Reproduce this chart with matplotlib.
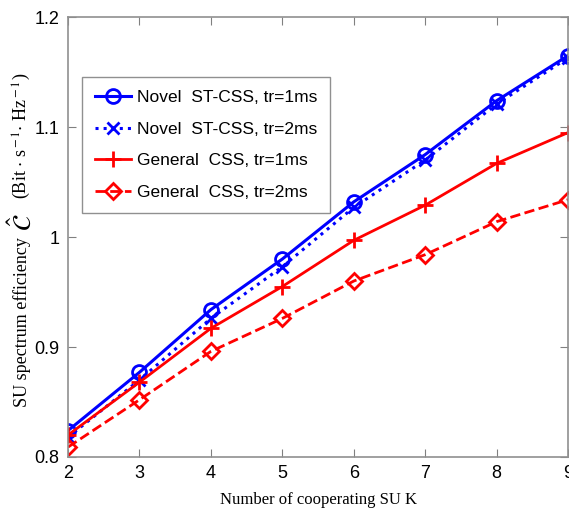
import numpy as np
import matplotlib
matplotlib.use("Agg")
import matplotlib.pyplot as plt

plt.rcParams["mathtext.fontset"] = "stix"

# number of cooperating SUs
K = [2, 3, 4, 5, 6, 7, 8, 9]

# spectrum efficiency
novel_1ms = [0.824, 0.877, 0.934, 0.980, 1.032, 1.075, 1.124, 1.165]
novel_2ms = [0.818, 0.870, 0.926, 0.973, 1.027, 1.070, 1.121, 1.163]
general_1ms = [0.820, 0.868, 0.917, 0.955, 0.997, 1.029, 1.067, 1.095]
general_2ms = [0.809, 0.852, 0.896, 0.926, 0.960, 0.984, 1.014, 1.034]

labels = ["Novel  ST-CSS, tr=1ms", "Novel  ST-CSS, tr=2ms",
          "General  CSS, tr=1ms", "General  CSS, tr=2ms"]

W, H = 569, 508
fig = plt.figure(figsize=(W / 100, H / 100), dpi=100)
ax = fig.add_axes([0.1195, 0.1004, 0.879, 0.866])

ax.plot(K, novel_1ms, color="#0000ff", ls="-", lw=2.2, marker="o", ms=10,
        mfc="none", mew=2, label=labels[0])
ax.plot(K, novel_2ms, color="#0000ff", ls=":", lw=2.2, marker="x", ms=9,
        mew=2, label=labels[1])
ax.plot(K, general_1ms, color="#ff0000", ls="-", lw=2.0, marker="+", ms=12,
        mew=2, label=labels[2])
ax.plot(K, general_2ms, color="#ff0000", ls="--", lw=2.0, marker="D", ms=8,
        mfc="none", mew=2, label=labels[3])

ax.set_xlim(2, 9)
ax.set_ylim(0.8, 1.2)
ax.set_xticks(K)
ax.set_yticks([0.8, 0.9, 1.0, 1.1, 1.2])
ax.set_yticklabels(["0.8", "0.9", "1", "1.1", "1.2"])
ax.tick_params(direction="in", top=True, right=True, length=6, color="#808080",
               labelsize=13, pad=6)
for lab in ax.get_xticklabels() + ax.get_yticklabels():
    lab.set_fontfamily("Liberation Sans")
for s in ax.spines.values():
    s.set_color("#909090")
    s.set_linewidth(1.2)

ax.set_xlabel("Number of cooperating SU K", fontfamily="Liberation Serif",
              fontsize=12, labelpad=7)

# y label in three pieces so the C-hat symbol can be bigger
fig.text(22 / W, 1 - 407 / H, "SU spectrum efficiency", rotation=90,
         ha="center", va="bottom", fontfamily="Liberation Serif", fontsize=13)
fig.text(24 / W, 1 - 222 / H, r"$\hat{\mathcal{C}}$", rotation=90,
         ha="center", va="center", fontsize=19)
fig.text(22 / W, 1 - 73 / H, r"(Bit $\cdot$ s$^{\rm -1}$$\cdot$ Hz$^{\rm -1}$)",
         rotation=90, ha="center", va="top", fontfamily="Liberation Serif",
         fontsize=13)

leg = ax.legend(loc="upper left", bbox_to_anchor=(0.028, 0.864),
                borderaxespad=0,
                prop={"family": "Liberation Sans", "size": 12.5},
                fancybox=False, edgecolor="#909090", framealpha=1,
                handlelength=2.1, borderpad=0.75, labelspacing=0.95,
                handletextpad=0.3)
leg.get_frame().set_linewidth(1.0)

plt.savefig("out.png", dpi=100)
